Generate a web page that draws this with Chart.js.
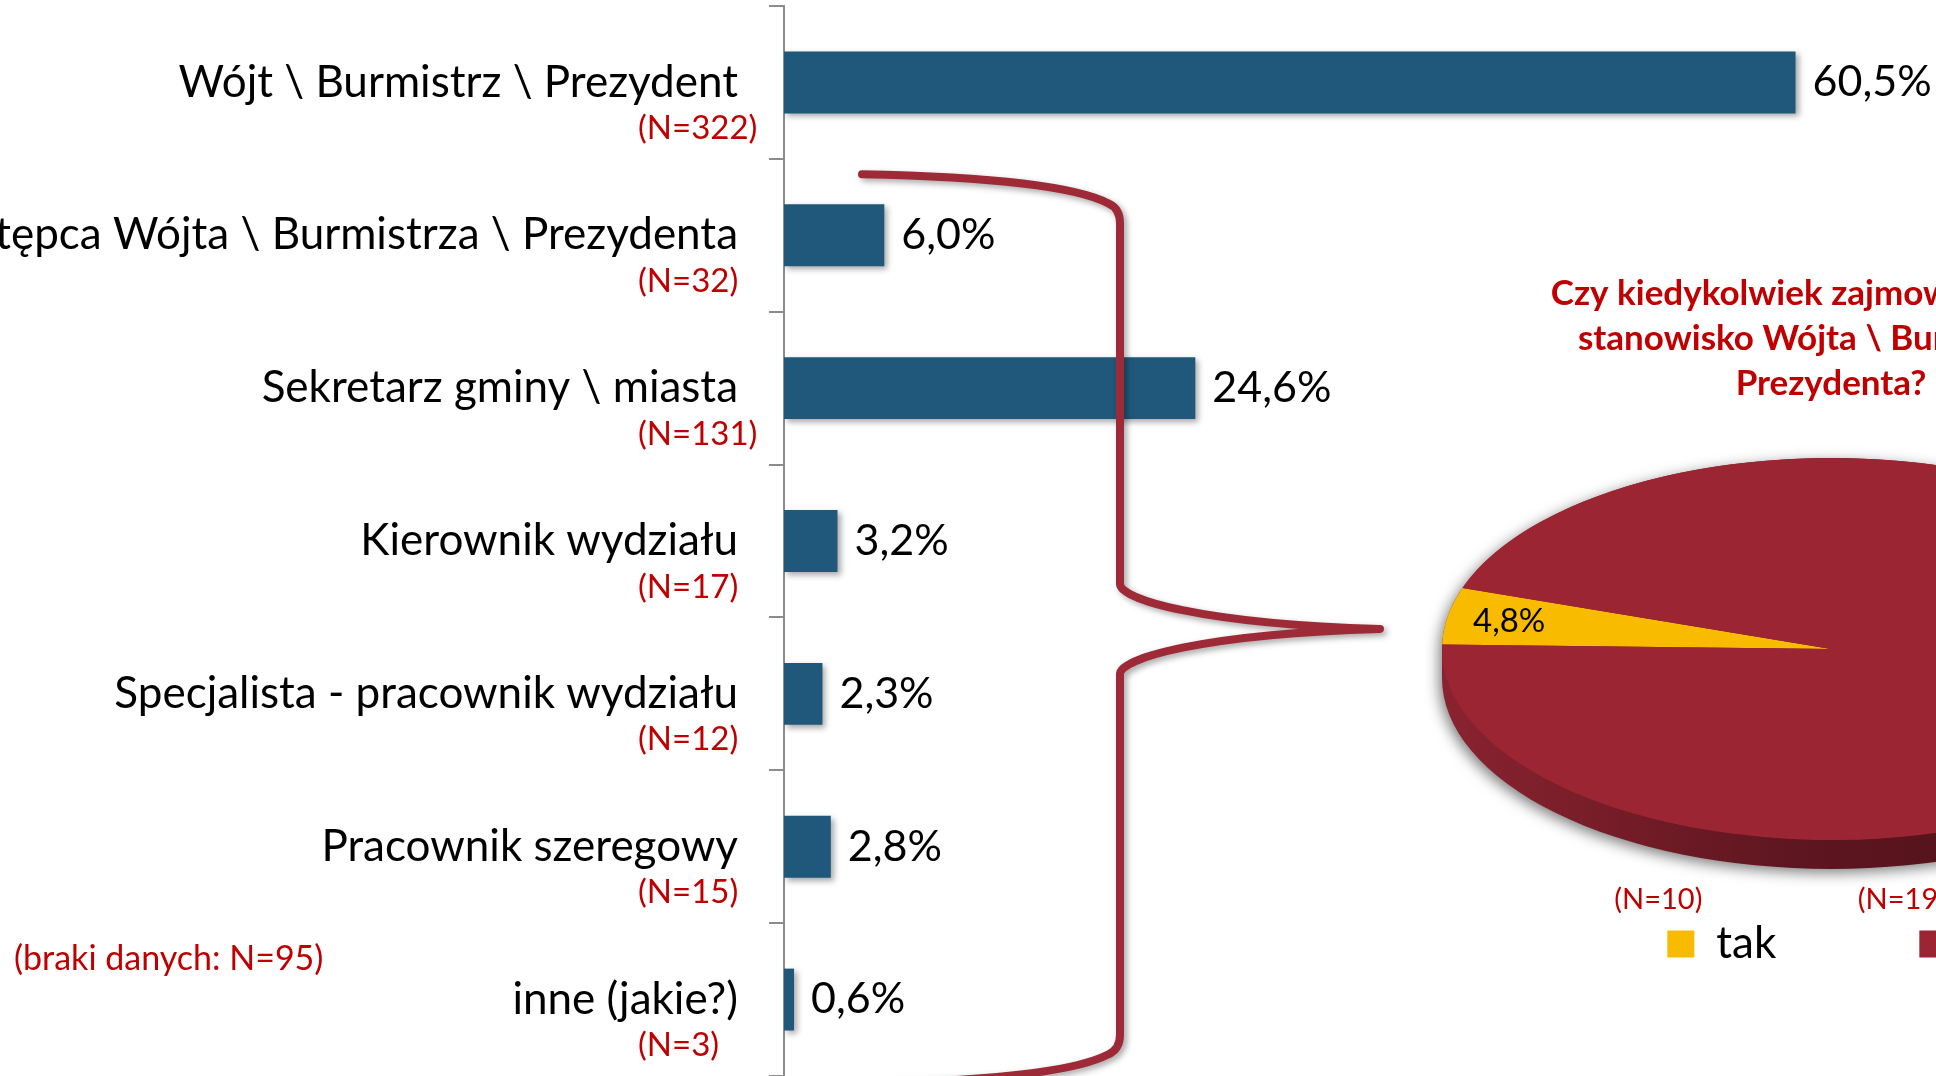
<!DOCTYPE html>
<html>
<head>
<meta charset="utf-8">
<script src="https://cdn.jsdelivr.net/npm/chart.js@4"></script>
<style>
  html, body { margin: 0; padding: 0; background: #fff; overflow: hidden; width: 1936px; height: 1076px; }
  #bars { position: absolute; left: 0; top: 0; }
  #pie { position: absolute; left: 1381px; top: 250px; }
</style>
</head>
<body>
<canvas id="bars" width="1936" height="1076"></canvas>
<canvas id="pie" width="900" height="726"></canvas>
<script>
// bar chart data
const positions = [
  'Wójt \\ Burmistrz \\ Prezydent',
  'Zastępca Wójta \\ Burmistrza \\ Prezydenta',
  'Sekretarz gminy \\ miasta',
  'Kierownik wydziału',
  'Specjalista - pracownik wydziału',
  'Pracownik szeregowy',
  'inne (jakie?)'
];
const shares = [60.5, 6.0, 24.6, 3.2, 2.3, 2.8, 0.6];
const counts = [322, 32, 131, 17, 12, 15, 3];
const missingNote = '(braki danych: N=95)';

// pie data
const pieTitle = ['Czy kiedykolwiek zajmował(a) Pan(i)', 'stanowisko Wójta \\ Burmistrza \\', 'Prezydenta?'];
const pieLabels = ['tak', 'nie'];
const pieShares = [4.8, 95.2];
const pieCounts = [10, 198];

const FONT = 'Lato';
const RED_TEXT = '#c00000';
const BAR_BLUE = '#1f587b';
const BRACE_RED = '#9e2a38';
const PIE_COLORS = ['#f8bb00', '#9c2533'];
const SQUASH = 0.491;   // tilt of the pie
const DEPTH = 29;       // thickness of the pie edge, px on screen
const YELLOW_DIR = 190; // where the "tak" slice points, degrees

const fmt = v => v.toFixed(1).replace('.', ',') + '%';

const barExtras = {
  id: 'barExtras',
  beforeDatasetsDraw(chart) {
    const ctx = chart.ctx;
    ctx.save();
    ctx.shadowColor = 'rgba(0,0,0,0.35)';
    ctx.shadowBlur = 6;
    ctx.shadowOffsetX = 3;
    ctx.shadowOffsetY = 3;
  },
  afterDatasetsDraw(chart) {
    const ctx = chart.ctx;
    ctx.restore();

    // value labels
    ctx.save();
    ctx.fillStyle = '#000';
    ctx.font = `43px ${FONT}`;
    ctx.textAlign = 'left';
    ctx.textBaseline = 'middle';
    chart.getDatasetMeta(0).data.forEach((bar, i) => {
      ctx.fillText(fmt(shares[i]), bar.x + 17, bar.y);
    });
    ctx.restore();

    // brace pointing at the pie
    const y = chart.scales.y;
    const top = y.getPixelForValue(1) - 61;
    const bottom = y.getPixelForValue(6) + 84;
    const mid = (top + bottom) / 2;
    ctx.save();
    ctx.strokeStyle = BRACE_RED;
    ctx.lineWidth = 8;
    ctx.lineCap = 'round';
    ctx.lineJoin = 'round';
    ctx.shadowColor = 'rgba(0,0,0,0.35)';
    ctx.shadowBlur = 6;
    ctx.shadowOffsetX = 3;
    ctx.shadowOffsetY = 3;
    ctx.beginPath();
    ctx.moveTo(862, top);
    ctx.quadraticCurveTo(1060, top + 4, 1108, top + 29);
    ctx.quadraticCurveTo(1120, top + 34, 1120, top + 49);
    ctx.lineTo(1120, mid - 45);
    ctx.bezierCurveTo(1120, mid - 30, 1200, mid - 5, 1380, mid);
    ctx.bezierCurveTo(1200, mid + 5, 1120, mid + 30, 1120, mid + 45);
    ctx.lineTo(1120, bottom - 49);
    ctx.quadraticCurveTo(1120, bottom - 34, 1108, bottom - 29);
    ctx.quadraticCurveTo(1060, bottom - 4, 862, bottom);
    ctx.stroke();
    ctx.restore();
  },
  afterDraw(chart) {
    const ctx = chart.ctx;
    const y = chart.scales.y;
    ctx.save();
    ctx.fillStyle = RED_TEXT;
    ctx.font = `33px ${FONT}`;
    ctx.textAlign = 'left';
    ctx.textBaseline = 'middle';
    counts.forEach((n, i) => {
      ctx.fillText(`(N=${n})`, y.right - 146, y.getPixelForValue(i) + 46);
    });
    ctx.font = `34px ${FONT}`;
    ctx.fillText(missingNote, 14, 959);
    ctx.restore();
  }
};

new Chart(document.getElementById('bars'), {
  type: 'bar',
  data: {
    labels: positions,
    datasets: [{
      data: shares,
      backgroundColor: BAR_BLUE,
      borderWidth: 0,
      categoryPercentage: 1,
      barPercentage: 0.405
    }]
  },
  options: {
    responsive: false,
    animation: false,
    events: [],
    devicePixelRatio: 1,
    indexAxis: 'y',
    layout: { padding: { top: 6, right: 0, bottom: 0, left: 0 } },
    plugins: { legend: { display: false }, tooltip: { enabled: false } },
    scales: {
      x: { display: false, min: 0, max: 68.9 },
      y: {
        afterFit(scale) {
          scale.width = 784;
          scale.paddingTop = 0;
          scale.paddingBottom = 0;
        },
        border: { display: true, color: '#8c8c8c', width: 2 },
        grid: { display: true, drawOnChartArea: false, drawTicks: true, tickLength: 15, color: '#8c8c8c', lineWidth: 2, offset: true },
        ticks: { color: '#000', font: { family: FONT, size: 44 }, padding: 31, autoSkip: false }
      }
    }
  },
  plugins: [barExtras]
});

const tilt = {
  id: 'tilt',
  afterLayout(chart) {
    // nudge the legend row to where the slide has it
    chart.legend.left += 16;
    chart.legend.right += 16;
  },
  beforeDatasetsDraw(chart) {
    const ctx = chart.ctx;
    const arc = chart.getDatasetMeta(0).data[0];
    const { x, y, outerRadius: r } = arc;
    const d = DEPTH / SQUASH;
    // edge of the disc
    ctx.save();
    ctx.translate(x, y);
    ctx.scale(1, SQUASH);
    const g = ctx.createLinearGradient(-r, 0, r, 0);
    g.addColorStop(0, '#8a2330');
    g.addColorStop(0.45, '#5e1620');
    g.addColorStop(1, '#4a0f16');
    ctx.fillStyle = g;
    ctx.shadowColor = 'rgba(0,0,0,0.5)';
    ctx.shadowBlur = 14;
    ctx.shadowOffsetX = -3;
    ctx.shadowOffsetY = 4;
    ctx.beginPath();
    ctx.moveTo(r, 0);
    ctx.arc(0, d, r, 0, Math.PI, false);
    ctx.lineTo(-r, 0);
    ctx.arc(0, 0, r, Math.PI, 2 * Math.PI, false);
    ctx.closePath();
    ctx.fill();
    ctx.restore();
    // squash the top face
    ctx.save();
    ctx.translate(x, y);
    ctx.scale(1, SQUASH);
    ctx.translate(-x, -y);
  },
  afterDatasetsDraw(chart) {
    const ctx = chart.ctx;
    ctx.restore();
    ctx.save();
    ctx.fillStyle = '#000';
    ctx.font = `33px ${FONT}`;
    ctx.textAlign = 'center';
    ctx.textBaseline = 'middle';
    chart.getDatasetMeta(0).data.forEach((arc, i) => {
      const a = (arc.startAngle + arc.endAngle) / 2;
      const px = arc.x + Math.cos(a) * arc.outerRadius * 0.84;
      const py = arc.y + Math.sin(a) * arc.outerRadius * 0.84 * SQUASH;
      ctx.fillText(fmt(pieShares[i]), px, py);
    });
    ctx.restore();
  },
  afterDraw(chart) {
    const ctx = chart.ctx;
    ctx.save();
    ctx.fillStyle = RED_TEXT;
    ctx.font = `29px ${FONT}`;
    ctx.textAlign = 'center';
    ctx.textBaseline = 'middle';
    chart.legend.legendHitBoxes.forEach((hb, i) => {
      ctx.fillText(`(N=${pieCounts[i]})`, hb.left - 9, hb.top + hb.height / 2 - 44);
    });
    ctx.restore();
  }
};

new Chart(document.getElementById('pie'), {
  type: 'pie',
  data: {
    labels: pieLabels,
    datasets: [{ data: pieShares, backgroundColor: PIE_COLORS, borderWidth: 0, clip: false }]
  },
  options: {
    responsive: false,
    animation: false,
    events: [],
    devicePixelRatio: 1,
    rotation: YELLOW_DIR + 90 - pieShares[0] * 1.8,
    radius: 389,
    layout: { padding: 0 },
    plugins: {
      title: {
        display: true,
        text: pieTitle,
        color: RED_TEXT,
        font: { family: FONT, size: 35, weight: 'bold', lineHeight: 45 / 35 },
        padding: { top: 21.5, bottom: 112.5 }
      },
      legend: {
        position: 'bottom',
        labels: { boxWidth: 27, boxHeight: 27, padding: 143, color: '#000', font: { family: FONT, size: 44 } }
      },
      tooltip: { enabled: false }
    }
  },
  plugins: [tilt]
});
</script>
</body>
</html>
